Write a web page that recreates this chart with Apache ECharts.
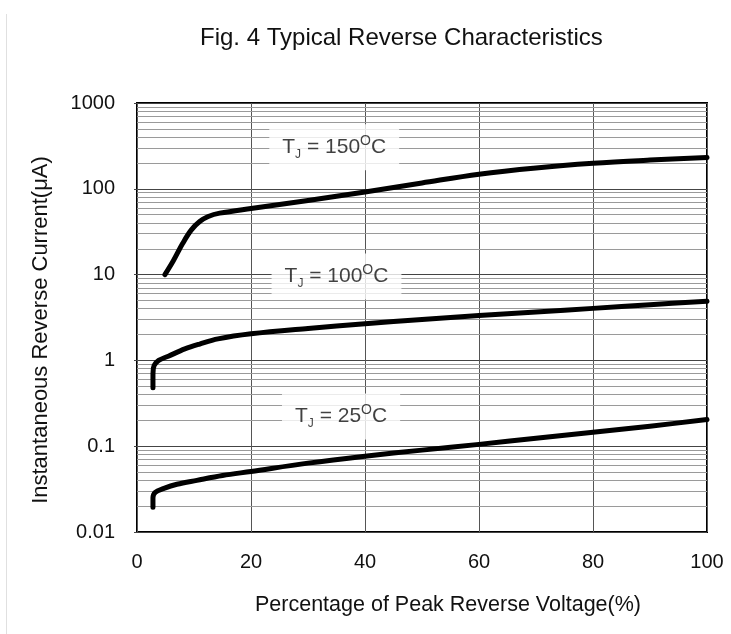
<!DOCTYPE html>
<html>
<head>
<meta charset="utf-8">
<script src="https://cdn.jsdelivr.net/npm/echarts@6/dist/echarts.min.js"></script>
<style>
  html, body { margin: 0; padding: 0; background: #fff; }
  #chart { width: 731px; height: 634px; }
</style>
</head>
<body>
<div id="chart"></div>
<script>
// ---- data ----
const xTickLabels = ['0', '20', '40', '60', '80', '100'];
const yTickLabels = ['0.01', '0.1', '1', '10', '100', '1000'];

// [percentage of peak reverse voltage, current in µA]
const curve150 = [[4.9,10],[6.4,14.6],[8,23],[9.5,33],[11,41.5],[12.5,47.5],[14.5,52],[20,59],[30,73],[40,92],[50,117],[60,148],[70,175],[80,198],[90,216],[100,232]];
const curve100 = [[2.8,0.48],[2.8,0.7],[3.0,0.87],[3.8,1.0],[5.5,1.12],[8.4,1.36],[11,1.55],[14.2,1.78],[20,2.04],[30,2.36],[40,2.68],[50,3.0],[60,3.33],[70,3.66],[80,4.04],[90,4.45],[100,4.9]];
const curve25 = [[2.8,0.0194],[2.8,0.025],[3.2,0.029],[4.6,0.032],[7,0.036],[10.5,0.040],[15,0.0455],[20,0.0508],[30,0.0635],[40,0.0765],[50,0.09],[60,0.105],[70,0.124],[80,0.145],[90,0.171],[100,0.205]];

const labelTemps = ['150', '100', '25'];
const labelX = [34.6, 35.0, 35.8];
const labelY = [304, 9.5, 0.222];

// minor log grid values (2..9 in each decade)
const minorValues = [];
for (let e = -2; e < 3; e++) {
  for (let m = 2; m <= 9; m++) minorValues.push(+(m * Math.pow(10, e)).toPrecision(6));
}

const FONT = '"Liberation Sans", Arial, Helvetica, sans-serif';
const chart = echarts.init(document.getElementById('chart'), null, { renderer: 'canvas' });

function curveSeries(data) {
  return {
    type: 'line',
    data: data,
    symbol: 'none',
    smooth: 0.35,
    silent: true,
    z: 5,
    lineStyle: { color: '#000', width: 5, cap: 'round', join: 'round' }
  };
}

const option = {
  animation: false,
  backgroundColor: '#fff',
  title: {
    text: 'Fig. 4 Typical Reverse Characteristics',
    left: 195,
    top: 21,
    textStyle: { fontFamily: FONT, fontSize: 24, fontWeight: 'normal', color: '#111' }
  },
  grid: {
    left: 137, right: 24, top: 103, bottom: 102,
    show: true, borderColor: '#000', borderWidth: 2, backgroundColor: 'transparent'
  },
  xAxis: {
    type: 'value',
    min: 0, max: 100, interval: 20,
    name: 'Percentage of Peak Reverse Voltage(%)',
    nameLocation: 'middle',
    nameGap: 62,
    nameTextStyle: { fontFamily: FONT, fontSize: 21.5, color: '#111', padding: [0, 0, 0, 52] },
    axisLine: { show: false },
    axisTick: { show: false },
    axisLabel: {
      fontFamily: FONT, fontSize: 20, color: '#111', margin: 20,
      formatter: (v, i) => xTickLabels[i]
    },
    splitLine: { show: true, lineStyle: { color: '#555', width: 1 } }
  },
  yAxis: {
    type: 'log',
    logBase: 10,
    min: 0.01, max: 1000,
    name: 'Instantaneous Reverse Current(μA)',
    nameLocation: 'middle',
    nameGap: 85,
    nameRotate: 90,
    nameTextStyle: { fontFamily: FONT, fontSize: 22, color: '#111', padding: [0, 25, 0, 0] },
    axisLine: { show: false },
    axisTick: { show: true, length: 3, lineStyle: { color: '#444' } },
    axisLabel: {
      fontFamily: FONT, fontSize: 20, color: '#111', margin: 22,
      formatter: (v, i) => yTickLabels[i]
    },
    splitLine: { show: true, lineStyle: { color: '#444', width: 1 } }
  },
  graphic: [
    { type: 'line', silent: true, shape: { x1: 6.5, y1: 14, x2: 6.5, y2: 634 }, style: { stroke: '#e0e0e0', lineWidth: 1 } }
  ],
  series: [
    {
      type: 'line',
      data: [],
      silent: true,
      z: 1,
      markLine: {
        silent: true,
        symbol: ['none', 'none'],
        label: { show: false },
        lineStyle: { color: '#9a9a9a', width: 1, type: 'solid' },
        emphasis: { disabled: true },
        data: minorValues.map(v => ({ yAxis: v }))
      }
    },
    curveSeries(curve150),
    curveSeries(curve100),
    curveSeries(curve25),
    {
      type: 'scatter',
      data: labelX.map((x, i) => [x, labelY[i]]),
      symbolSize: 0,
      silent: true,
      z: 10,
      label: {
        show: true,
        position: 'inside',
        backgroundColor: '#fff',
        padding: [10, 13, 10, 13],
        formatter: p => '{t|T}{s|J}{t| = ' + labelTemps[p.dataIndex] + '}{o|O}{t|C}',
        rich: {
          t: { fontFamily: FONT, fontSize: 21, color: '#111', lineHeight: 26, verticalAlign: 'middle' },
          s: { fontFamily: FONT, fontSize: 12, color: '#111', lineHeight: 12, verticalAlign: 'bottom' },
          o: { fontFamily: FONT, fontSize: 14, color: '#111', lineHeight: 14, verticalAlign: 'top' }
        }
      }
    }
  ]
};
chart.setOption(option);
</script>
</body>
</html>
